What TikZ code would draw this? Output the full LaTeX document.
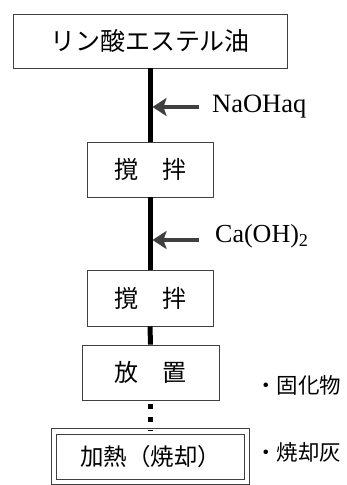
\documentclass[tikz,border=0pt]{standalone}
\usepackage{fontspec}
\setmainfont{Liberation Serif}
\newfontfamily\jp{Noto Sans CJK JP}
\usetikzlibrary{arrows.meta}
\tikzset{
  box/.style={draw=black!75, line width=0.8pt, inner sep=0pt, align=center,
              font=\jp\fontsize{24}{28}\selectfont},
  dbox/.style={box, double=white, double distance=4.5pt},
  flow/.style={line width=5pt, black},
  dots/.style={line width=5pt, black, dash pattern=on 4.5pt off 8.5pt, dash phase=9pt},
  feed/.style={line width=3.5pt, black!75, -{Stealth[length=14pt,width=18pt,inset=3pt]}},
  chem/.style={font=\fontsize{26.5}{30}\selectfont, anchor=base west, inner sep=0pt},
  note/.style={font=\jp\fontsize{21.5}{24}\selectfont, anchor=west, inner sep=0pt}
}
\begin{document}
\begin{tikzpicture}[x=1pt,y=-1pt]
\useasboundingbox (0,0) rectangle (347,485);
\node[box, minimum width=274pt, minimum height=54pt, font=\jp\fontsize{25}{28}\selectfont] (b1) at (150,41) {リン酸エステル油};
\node[box, minimum width=126pt, minimum height=55pt] (b2) at (150,169.5) {撹　拌};
\node[box, minimum width=126pt, minimum height=56pt] (b3) at (150,298) {撹　拌};
\node[box, minimum width=137pt, minimum height=55pt] (b4) at (150.5,372.5) {放　置};
\node[dbox, minimum width=193pt, minimum height=50.5pt, font=\jp\fontsize{23.5}{26}\selectfont] (b5) at (150.5,456.75) {加熱（焼却）};

\draw[flow] (b1.south) -- (b2.north);
\draw[flow] (b2.south) -- (b3.north);
\draw[flow] (b3.south) -- (b4.north);
\draw[dots] (b4.south) -- (b5.north);

\coordinate (t1) at (199,107);
\coordinate (h1) at (152.5,107);
\draw[feed] (t1) -- (h1);
\node[chem] (naoh) at (212,112.5) {NaOHaq};

\coordinate (t2) at (199,240);
\coordinate (h2) at (152.5,240);
\draw[feed] (t2) -- (h2);
\node[chem, font=\fontsize{26}{30}\selectfont] (caoh) at (215,242.5) {Ca(OH)\textsubscript{2}};

\node[note] (n1) at (255,385) {・固化物};
\node[note] (n2) at (255,452) {・焼却灰};
\end{tikzpicture}
\end{document}
